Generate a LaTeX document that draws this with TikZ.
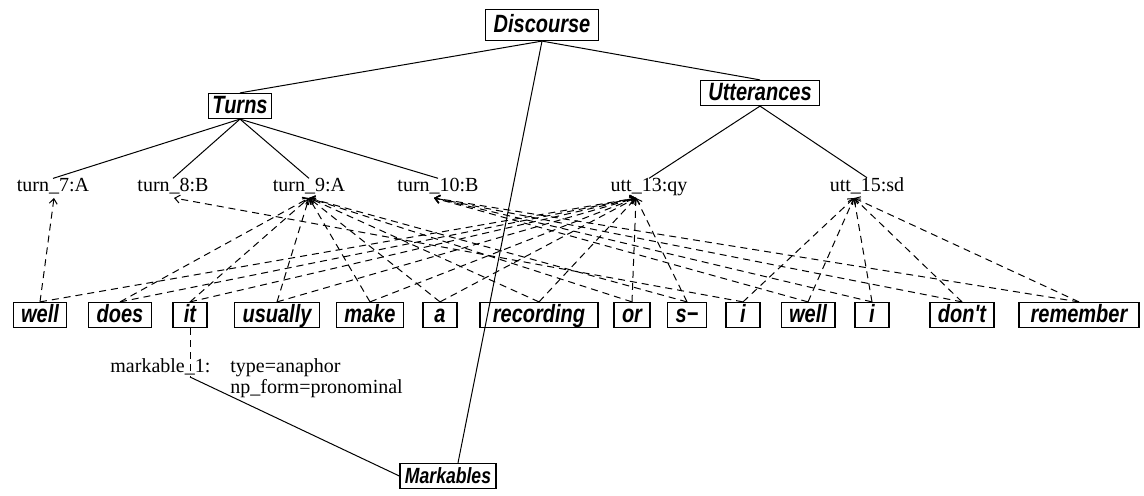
\documentclass[tikz,border=0pt]{standalone}
\usepackage{fontspec}
\setmainfont{Liberation Serif}
\newfontfamily\boxfont[FakeStretch=0.8]{Liberation Sans}
\usetikzlibrary{arrows.meta}

\begin{document}
\begin{tikzpicture}[x=0.5pt,y=-0.5pt,
  lvl/.style={draw,line width=.6pt,inner xsep=4pt,inner ysep=.5pt,text height=9.5pt,text depth=2pt,
    font=\boxfont\fontsize{12.5}{14}\selectfont\bfseries\itshape},
  word/.style={lvl,minimum width=17pt},
  lbl/.style={inner sep=0pt,anchor=base,font=\fontsize{10}{12}\selectfont},
  tree/.style={line width=.5pt},
  link/.style={line width=.5pt,dash pattern=on 3.5pt off 2.5pt,-{Straight Barb[length=2.5pt,width=4pt]}}]
\useasboundingbox (0,0) rectangle (1144,496);

% top levels
\node[lvl,minimum height=15.5pt] (disc) at (542,25) {Discourse};
\node[lvl,inner xsep=2pt] (turns) at (240,106) {Turns};
\node[lvl] (utts) at (760,93) {Utterances};
\node[lvl,inner xsep=2.5pt,font=\boxfont\fontsize{11}{14}\selectfont\bfseries\itshape] (marks) at (448,476) {Markables};

% turns and utterances
\node[lbl] (t7) at (53,192) {turn\_7:A};
\node[lbl] (t8) at (173,192) {turn\_8:B};
\node[lbl] (t9) at (309,192) {turn\_9:A};
\node[lbl] (t10) at (438,192) {turn\_10:B};
\node[lbl] (u13) at (649,192) {utt\_13:qy};
\node[lbl] (u15) at (867,192) {utt\_15:sd};
\coordinate (t7u) at (54,198);
\coordinate (t8u) at (174,198);
\coordinate (t9u) at (309,198);
\coordinate (t10u) at (434,198);
\coordinate (u13u) at (636,198);
\coordinate (u15u) at (854,198);

% words
\foreach \n/\x/\t in {w1/40/well,w2/120/does,w3/190/it,w4/277/usually,w5/370/make,
    w6/440/a,w8/632/or,w9/687/s−,w10/743/i,w11/808/well,
    w12/872/i,w13/962/don't}
  \node[word] (\n) at (\x,315) {\t};
\node[word,minimum width=59pt] (w7) at (539,315) {recording};
\node[word,minimum width=60pt] (w14) at (1079,315) {remember};

% markable
\node[lbl,anchor=base west] (m1) at (110,372) {markable\_1:};
\node[lbl,anchor=base west] (m1t) at (230,372) {type=anaphor};
\node[lbl,anchor=base west] (m1f) at (230,393) {np\_form=pronominal};
\coordinate (m1u) at (190,377);

% tree edges
\draw[tree] (disc.south) -- (turns.north);
\draw[tree] (disc.south) -- (utts.north);
\draw[tree] (disc.south) -- ([xshift=5pt]marks.north);
\foreach \t in {t7,t8,t9,t10}
  \draw[tree] (turns.south) -- (\t.north);
\foreach \u in {u13,u15}
  \draw[tree] (utts.south) -- (\u.north);
\draw[tree] (m1u) -- (marks.west);

% word links
\foreach \w/\p in {w1/t7u,w2/t9u,w3/t9u,w4/t9u,w5/t9u,w6/t9u,w7/t9u,w8/t9u,w9/t9u,
    w10/t8u,w11/t10u,w12/t10u,w13/t10u,w14/t10u}
  \draw[link] (\w.north) -- (\p);
\foreach \w/\p in {w1/u13u,w2/u13u,w3/u13u,w4/u13u,w5/u13u,w6/u13u,w7/u13u,w8/u13u,w9/u13u,
    w10/u15u,w11/u15u,w12/u15u,w13/u15u,w14/u15u}
  \draw[link] (\w.north) -- (\p);
\draw[link,-] (w3.south) -- (m1u);
\end{tikzpicture}
\end{document}
